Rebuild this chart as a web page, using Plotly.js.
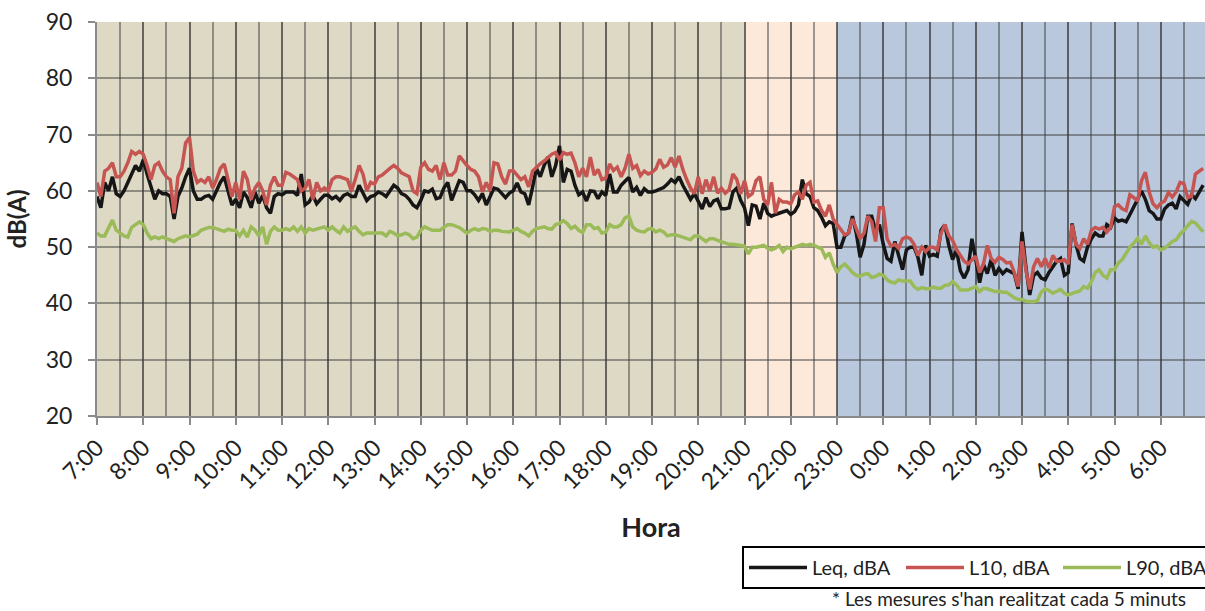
<!DOCTYPE html>
<html>
<head>
<meta charset="utf-8">
<script src="https://cdn.plot.ly/plotly-3.0.1.min.js"></script>
<style>
html,body{margin:0;padding:0;background:#fff;overflow:hidden;}
#chart{width:1205px;height:611px;}
</style>
</head>
<body>
<div id="chart"></div>
<script>
// Measurements every 5 minutes, starting 7:00 (values in dBA)
const intervalMin = 5;

const leq = [
59,57,61.5,60,62.5,59.5,59,60,61.5,63,64.5,63.5,
65.5,63,60.5,58.5,60,59.5,59.5,59,55,59,60.5,62.5,
64,60,58.5,58.5,59,59.2,58.5,60,61.5,62.5,60,57.5,
58.5,57,59.8,58.8,57,59.8,57.8,59.2,57,56,59,59.5,
59.3,59.8,59.8,59.8,59.2,63,57.5,58,59.2,57.7,58.5,59.2,
59.2,58.6,59,58.3,59.2,59.5,59,59,61,59.5,58.3,59,
59.2,59.8,59.5,59,60,61,60.5,59.5,59.2,58.5,57.5,57,
58.3,60,59.8,60.3,58.6,58.8,60.5,61.5,58.3,60,61.8,61.5,
60,60,59.3,58.3,59.5,57.5,59,60.5,60.3,59.6,58.8,59.6,
60,61.4,59.8,59.5,57.5,60.6,64,62.5,64.5,66,62.5,64.5,
68,61.5,63.8,63.5,61,59.3,59.8,58.2,60,59.9,58.6,59.8,
59.2,63,59.8,59.8,61,61.7,62.4,59.8,60.6,59.2,60.4,59.8,
59.8,60,60.3,60.6,61.2,62,61.5,62.5,61,59.6,58.5,59.5,
58,56.8,58.8,57.2,58.2,58.5,56.8,56.8,57,59.8,60.5,58.3,
57,53.8,57.5,57.3,55,57.8,56,55.5,55.8,56,56.2,56.5,
55.8,56.3,57.5,62,59.5,59,57,56.5,55.3,53.8,54.5,54.2,
50,50,52,52.5,55.5,52.5,48.2,50.5,55.5,55.5,53,54,
50.5,48,47.5,51,48.5,46,49.5,50,50,48.2,45,50.3,
48.4,48.7,48.4,53,54,50.3,47.8,49.5,45.8,44.5,46,51.5,
47.8,43.7,47,45.3,47.8,45,46.2,45.3,46,45.6,45.3,42.6,
52.7,46.5,41.5,45,45.5,44.5,44.2,45.5,46.5,47.5,48,45,
45.5,54.2,50.5,48,47.5,50,51.5,52.5,52,52,54,53.5,
55.2,54.6,54.8,54.5,55.8,57,58.5,60,58.5,56.5,56,55,
55,56.8,57.5,57.8,56.8,59,58.2,57.6,59.3,58.6,59.8,61
];

const l10 = [
61.5,59,63.5,64,65,62.5,62.5,63.5,65,67,66.5,67,
66.5,64.5,62,64.5,65,63.5,62.5,62,56,62.5,64,68.5,
69.5,63.5,61.5,62,61.5,62.5,60.5,62,64,64.8,62,59,
61.5,58.5,63.5,62,58.5,60.5,61.5,60,57.5,61,62.5,61,
61,63.3,63,62.5,62,60,60.5,62,58.5,61.5,60,60.5,
60,62,62.5,62.5,62.3,62,60,62,64.5,63,60,61.5,
61.2,62.5,62.8,63.5,64,64.5,64,63.2,62.8,62.5,60,59.5,
64.2,65,63.8,63.5,64.5,62,65,62.8,62.8,63.5,66.2,65.3,
64.5,63.8,63.5,62.5,59.8,61.5,60,65,64.8,62.5,61.2,63.5,
63.6,62.8,62,62.5,60.7,63.5,64.2,64.8,65.3,66,66.5,66.8,
65.5,66.8,66.5,66.7,65,62.5,64,62.5,66,62.8,63.8,62,
62.3,64.8,63.6,64.2,62.5,64,66.5,64,64.5,62.7,63.5,63,
63.3,63.9,65.6,64.2,64.6,65.9,64.2,66.2,63.8,62,60.5,59.5,
62.5,59.5,62,60,62.5,59.6,60.5,59.6,60.2,63,62,59.5,
61.8,59,59.5,61.8,62.5,58.5,57.5,61.5,56,58.5,58,58,
57.7,59.3,59.8,58.5,61,61.5,58,58.2,56.5,55.5,57.5,55,
54,53,52.2,52.5,55,53.3,51.5,52.5,55.5,54.5,51,57,
57,51.5,50.2,50.5,49.8,51.5,51.8,51.5,50.5,48.5,50,49.2,
50,50,49.5,52.5,54,52,51.2,49.6,48.6,47.5,47,47.6,
48.4,45.5,47,50.3,48,47.3,48.2,47.8,47.2,47.3,45.5,43,
51,46,42.5,46.5,48,46.5,48,46.3,48.5,47.5,47.5,47.8,
47,54,50.5,49.8,51.5,50.5,53,53.5,53.2,53.5,52.7,53.5,
57.2,57.5,56.8,56.5,59.3,58.8,58.2,61.8,63.3,59.8,57.7,57,
57.8,58.2,59.7,58.9,59.8,61.5,61.3,58.8,59,63,63.5,64
];

const l90 = [
52.5,52,52,53.5,54.8,53,52.5,52,51.8,53.5,54,54.5,
54,52.5,51.5,51.8,51.5,51.8,51.5,51.2,51,51.5,51.8,52,
51.8,52,52.3,53,53.2,53.5,53.5,53.3,53,52.8,53.2,53,
53,52,53,51.8,53.6,53,52,53.6,50.5,52.8,53.6,53,
53,53.3,53,53.6,52.8,53.6,52.5,53.3,53,53.2,53.3,53.6,
53,53.6,53,52.5,53.6,52.8,53.3,53.6,52.8,52.2,52.5,52.5,
52.5,52.5,52.5,52,52.8,52.5,52,52.2,52.5,52.2,51.5,51.8,
53,53.6,53.3,53,53,53,53.5,54,54,53.8,53.5,53,
52.5,53,53.3,53,53.3,53.2,52.8,53,53,52.8,52.8,52.7,
53,53.3,52.8,52.5,52,52.8,53.3,53.5,53.6,53.3,53.2,54,
54.2,54.7,54.2,53.3,53.7,53,52.6,54,54,53.3,53.5,52.5,
52.7,54,53.6,53.6,54,55.2,55.5,53.6,53,52.8,52.7,53.2,
53.3,52.7,53,52.7,52,52.2,52.2,52,51.8,51.5,51.3,52,
52,51.5,51,51.5,51.5,51.2,51,50.8,50.5,50.5,50.4,50.2,
50.2,48.8,50,50,50.2,50.3,49.8,49.5,49.8,50.3,49.2,50,
49.7,50,50.2,50.5,50.3,50.5,50.3,50,49.7,48.2,49,47,
45.5,46.5,47,46.3,45.5,45,44.8,45.2,45.3,44.6,44.8,45.2,
45,44.2,43.8,43.6,44.2,44,44,44,43,42.5,42.8,42.6,
42.6,42.9,42.7,42.7,43.2,43.3,43.9,43.3,42.4,42.4,42.4,42.7,
43,42.1,42.7,42.6,42.3,42.1,42.2,42,42,41.5,41,40.7,
40.7,40.4,40.3,40.3,40.5,42,42.6,42.3,41.8,42.2,42.5,41.8,
41.5,41.8,42,42.2,43,42.7,43.8,45.5,46,45,44.5,46,
46,47.2,47.8,49,50,50.7,51.6,50.5,52,50.8,50,50.2,
49.5,49.8,50.5,51,51.3,52.3,53,53.7,54.6,54.3,53.5,52.7
];

const hourLabels = ["7:00","8:00","9:00","10:00","11:00","12:00","13:00","14:00","15:00","16:00","17:00","18:00","19:00","20:00","21:00","22:00","23:00","0:00","1:00","2:00","3:00","4:00","5:00","6:00"];
const hourTicks = hourLabels.map((_, i) => i * 60);        // minutes after 7:00
const periodStarts = [0, 840, 960];                          // 7:00, 21:00, 23:00
const periodEnds = [840, 960, 1440];
const periodColors = ["#ddd9c4", "#fde9d9", "#b9c8dd"];

const minutes = leq.map((_, i) => i * intervalMin);

const font = "Lato, 'Open Sans', sans-serif";
const gridCol = "rgba(55,55,55,0.47)";

const traces = [
  {x: minutes, y: leq, name: "Leq, dBA", type: "scatter", mode: "lines", line: {color: "#161616", width: 3.5}},
  {x: minutes, y: l10, name: "L10, dBA", type: "scatter", mode: "lines", line: {color: "#c65552", width: 3.5}},
  {x: minutes, y: l90, name: "L90, dBA", type: "scatter", mode: "lines", line: {color: "#9bbb59", width: 3.5}}
];

const shapes = periodStarts.map((s, i) => ({
  type: "rect", xref: "x", yref: "paper", x0: s, x1: periodEnds[i], y0: 0, y1: 1,
  fillcolor: periodColors[i], line: {width: 0}, layer: "below"
}));

const layout = {
  width: 1205, height: 611,
  margin: {l: 97, r: 0, t: 22, b: 195},
  paper_bgcolor: "#ffffff",
  plot_bgcolor: "rgba(0,0,0,0)",
  font: {family: font, color: "#222", size: 20},
  showlegend: true,
  shapes: shapes,
  xaxis: {
    type: "linear", range: [0, 1437.4],
    tickvals: hourTicks, ticktext: hourLabels, tickangle: -45,
    ticks: "outside", ticklen: 7, tickwidth: 2, tickcolor: "#8a8a8a",
    showgrid: true, gridcolor: gridCol, gridwidth: 2,
    minor: {dtick: 30, tick0: 0, showgrid: true, gridcolor: gridCol, gridwidth: 2, ticks: ""},
    showline: true, linecolor: "#8a8a8a", linewidth: 2,
    zeroline: false, automargin: false,
    tickfont: {size: 23, family: font, color: "#222"},
    title: {text: "<b>Hora</b>", font: {size: 27, family: font, color: "#222"}, standoff: 25}
  },
  yaxis: {
    range: [20, 90], dtick: 10, tick0: 20,
    ticks: "outside", ticklen: 7, tickwidth: 2, tickcolor: "#8a8a8a",
    showgrid: true, gridcolor: gridCol, gridwidth: 2,
    showline: true, linecolor: "#8a8a8a", linewidth: 2,
    zeroline: false, automargin: false,
    ticklabelstandoff: 11,
    tickfont: {size: 23, family: font, color: "#222"},
    title: {text: "<b>dB(A)</b>", font: {size: 24, family: font, color: "#222"}, standoff: 12}
  },
  legend: {
    orientation: "h", xref: "container", yref: "container",
    x: 742 / 1205, xanchor: "left", y: 1 - 546 / 611, yanchor: "top",
    bordercolor: "#000", borderwidth: 2, bgcolor: "#fff",
    font: {size: 20, family: font, color: "#222"},
    itemwidth: 58, entrywidth: 84, entrywidthmode: "pixels", traceorder: "normal"
  },
  annotations: [{
    text: "* Les mesures s'han realitzat cada 5 minuts",
    xref: "paper", yref: "paper", x: (830 - 97) / 1108, y: (416 - 598) / 394, xanchor: "left", yanchor: "middle",
    showarrow: false, font: {size: 19, family: font, color: "#222"}
  }]
};

Plotly.newPlot("chart", traces, layout, {displayModeBar: false, staticPlot: true});
</script>
</body>
</html>
